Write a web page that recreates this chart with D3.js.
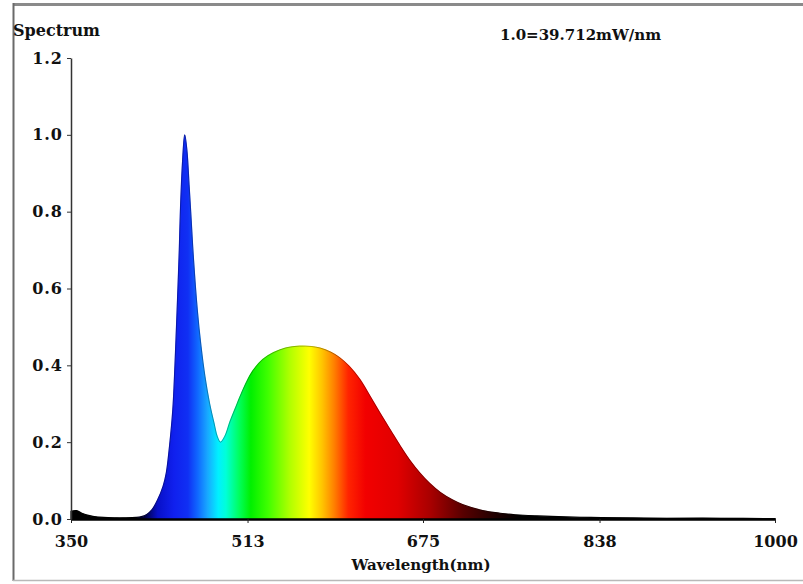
<!DOCTYPE html>
<html>
<head>
<meta charset="utf-8">
<script src="https://cdn.jsdelivr.net/npm/d3@7"></script>
<style>
  html, body { margin: 0; padding: 0; background: #fff; }
  svg { display: block; }
  text { font-family: "DejaVu Serif", serif; font-weight: bold; fill: #111; }
</style>
</head>
<body>
<svg id="chart" width="803" height="584"></svg>
<script>
// ---- data ----
const wavelengths = [350,355,360,365,370,380,390,400,410,415,420,425,430,435,438,441,444,446,448,450,451,453,455,457,459,460.5,463,466.6,470,473.7,478,482,485,488,492,497,502,506,512,518,527,537,548,561,572,580,590,598,607,617,626,635,645,654,663,672,681,691,702,712,730,746,760,780,800,830,860,900,950,1000];
const intensity   = [0.02,0.022,0.015,0.01,0.007,0.004,0.003,0.003,0.004,0.006,0.012,0.025,0.05,0.085,0.12,0.19,0.284,0.40,0.544,0.70,0.80,0.93,1.0,0.96,0.87,0.80,0.68,0.544,0.45,0.37,0.30,0.25,0.215,0.2,0.215,0.255,0.29,0.318,0.356,0.386,0.415,0.433,0.445,0.45,0.449,0.445,0.434,0.42,0.397,0.362,0.32,0.277,0.231,0.19,0.152,0.12,0.093,0.069,0.05,0.037,0.022,0.015,0.011,0.008,0.006,0.004,0.003,0.002,0.002,0.001];
const xTicks = [350, 513, 675, 838, 1000];
const yTicks = [0.0, 0.2, 0.4, 0.6, 0.8, 1.0, 1.2];
const colorStopWavelengths = [350,408,418,430,445,458,467,476,486,493,505,516,532,552,570,582,593,606,622,652,682,712,742,765,1000];
const colorStopColors = ["#000000","#000000","#000040","#0810c8","#1020ee","#1030f4","#1068ff","#18a8ff","#00f0ff","#00ffd8","#00ff60","#00f000","#40ff00","#b0ff00","#ffff00","#ffc400","#ff8000","#ff2400","#f20000","#e00000","#a80000","#580000","#200000","#000000","#000000"];
const titleText = "Spectrum";
const noteText = "1.0=39.712mW/nm";
const xLabel = "Wavelength(nm)";

// ---- layout ----
const svg = d3.select("#chart");
const x = d3.scaleLinear().domain([350, 1000]).range([71, 775]);
const y = d3.scaleLinear().domain([0, 1.2]).range([519, 58]);

// frame
svg.append("line").attr("x1", 13).attr("x2", 803).attr("y1", 4.5).attr("y2", 4.5)
  .attr("stroke", "#8a8a8a").attr("stroke-width", 3);
svg.append("line").attr("x1", 13.5).attr("x2", 13.5).attr("y1", 3).attr("y2", 581)
  .attr("stroke", "#6a6a6a").attr("stroke-width", 2);
svg.append("line").attr("x1", 13).attr("x2", 803).attr("y1", 580.5).attr("y2", 580.5)
  .attr("stroke", "#b8b8b8").attr("stroke-width", 1.5);

// gradient
const defs = svg.append("defs");
const grad = defs.append("linearGradient").attr("id", "spec")
  .attr("gradientUnits", "userSpaceOnUse")
  .attr("x1", x(350)).attr("x2", x(1000)).attr("y1", 0).attr("y2", 0);
colorStopWavelengths.forEach((w, i) => {
  grad.append("stop").attr("offset", (w - 350) / 650).attr("stop-color", colorStopColors[i]);
});

const data = wavelengths.map((w, i) => ({w, v: intensity[i]}));
const curve = d3.curveCatmullRom.alpha(0.5);
const area = d3.area().x(d => x(d.w)).y0(y(0)).y1(d => y(Math.max(0, d.v))).curve(curve);
svg.append("path").datum(data).attr("d", area).attr("fill", "url(#spec)")
  .attr("stroke", "url(#spec)").attr("stroke-width", 1.2);
const line = d3.line().x(d => x(d.w)).y(d => y(d.v)).curve(curve);
svg.append("path").datum(data).attr("d", line).attr("fill", "none")
  .attr("stroke", "#000").attr("stroke-opacity", 0.3).attr("stroke-width", 1);

// axes
const xAxis = svg.append("g").attr("transform", `translate(0,${y(0)})`)
  .call(d3.axisBottom(x).tickValues(xTicks).tickSize(4).tickSizeOuter(0).tickFormat(d3.format("d")));
xAxis.select(".domain").attr("stroke", "#000").attr("stroke-width", 2.5);
xAxis.selectAll(".tick line").attr("stroke", "#222").attr("stroke-width", 1);
xAxis.selectAll(".tick text").attr("dy", null).attr("y", 28)
  .style("font-family", '"DejaVu Serif", serif').style("font-weight", "bold")
  .style("font-size", "16px").attr("fill", "#111");

const yAxis = svg.append("g").attr("transform", `translate(${x(350)},0)`)
  .call(d3.axisLeft(y).tickValues(yTicks).tickSize(4).tickSizeOuter(0).tickFormat(d3.format(".1f")));
yAxis.select(".domain").attr("stroke", "#333").attr("stroke-width", 1.5);
yAxis.selectAll(".tick line").attr("stroke", "#333");
yAxis.selectAll(".tick text").attr("x", -8)
  .style("font-family", '"DejaVu Serif", serif').style("font-weight", "bold")
  .style("font-size", "16px").style("letter-spacing", "1px").attr("fill", "#111");

// texts
svg.append("text").attr("x", 13).attr("y", 36).style("font-size", "16px").text(titleText);
svg.append("text").attr("x", 500).attr("y", 40).style("font-size", "15px").text(noteText);
svg.append("text").attr("x", 421).attr("y", 570).attr("text-anchor", "middle")
  .style("font-size", "15px").text(xLabel);
</script>
</body>
</html>
